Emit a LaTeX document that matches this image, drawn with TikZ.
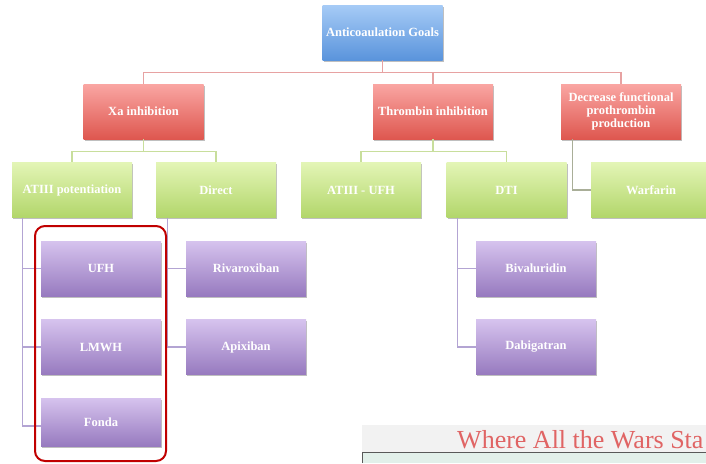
\documentclass[tikz,border=0pt]{standalone}
\usepackage{fontspec}
\setmainfont{Liberation Serif}
\usetikzlibrary{shadows}
\definecolor{bluetop}{HTML}{A6CBF6}
\definecolor{bluebot}{HTML}{5A94DC}
\definecolor{redtop}{HTML}{FAA6A3}
\definecolor{redbot}{HTML}{DE574F}
\definecolor{greentop}{HTML}{E3F5B6}
\definecolor{greenbot}{HTML}{B2D66A}
\definecolor{purptop}{HTML}{D6C3EE}
\definecolor{purpbot}{HTML}{977ABF}
\definecolor{redln}{HTML}{E7A2A2}
\definecolor{greenln}{HTML}{C8DE9C}
\definecolor{purpln}{HTML}{B3A4D3}
\definecolor{grayln}{HTML}{A9AE98}
\definecolor{frame}{HTML}{C00000}
\definecolor{titlered}{HTML}{E06464}
\definecolor{band}{HTML}{F2F2F2}
\definecolor{paleg}{HTML}{E2F0EA}
\tikzset{
  box/.style={minimum width=120pt, minimum height=55pt, inner sep=2pt, text=white, align=center,
    font=\bfseries\fontsize{12.5}{13}\selectfont,
    drop shadow={shadow xshift=1pt, shadow yshift=-1.5pt, fill=black, opacity=0.25}},
  bluebox/.style={box, top color=bluetop, bottom color=bluebot},
  redbox/.style={box, top color=redtop, bottom color=redbot},
  greenbox/.style={box, top color=greentop, bottom color=greenbot},
  purpbox/.style={box, top color=purptop, bottom color=purpbot},
  redline/.style={draw=redln, line width=1.1pt},
  greenline/.style={draw=greenln, line width=1.1pt},
  purpline/.style={draw=purpln, line width=1.1pt},
  grayline/.style={draw=grayln, line width=1.1pt},
}
\begin{document}
\begin{tikzpicture}[x=1pt, y=-1pt]
\useasboundingbox (0,0) rectangle (706,463);
% nodes
\node[bluebox] (goal) at (382.5,32.5) {Anticoaulation Goals};
\node[redbox] (xa) at (143.5,111.5) {Xa inhibition};
\node[redbox] (thr) at (433,111.5) {Thrombin inhibition};
\node[redbox] (dec) at (621,111.5) {Decrease functional\\prothrombin\\production};
\node[greenbox] (at3) at (72,190) {ATIII potentiation};
\node[greenbox] (dir) at (216,190) {Direct};
\node[greenbox] (atu) at (361,190) {ATIII - UFH};
\node[greenbox] (dti) at (506.5,190) {DTI};
\node[greenbox] (war) at (651,190) {Warfarin};
\node[purpbox] (ufh) at (101,268.5) {UFH};
\node[purpbox] (lmwh) at (101,347) {LMWH};
\node[purpbox, minimum height=48pt] (fonda) at (101,422) {\raisebox{-4pt}{Fonda}};
\node[purpbox] (riv) at (246,268.5) {Rivaroxiban};
\node[purpbox] (apx) at (246,347) {Apixiban};
\node[purpbox] (biv) at (536,268.5) {Bivaluridin};
\node[purpbox] (dab) at (536,347) {Dabigatran};
% connectors
\draw[redline] (goal.south) -- ++(0,12) -| (xa.north);
\draw[redline] (goal.south) -- ++(0,12) -| (thr.north);
\draw[redline] (goal.south) -- ++(0,12) -| (dec.north);
\draw[greenline] (xa.south) -- ++(0,12) -| (at3.north);
\draw[greenline] (xa.south) -- ++(0,12) -| (dir.north);
\draw[greenline] (thr.south) -- ++(0,12) -| (atu.north);
\draw[greenline] (thr.south) -- ++(0,12) -| (dti.north);
\draw[grayline] ([xshift=12pt]dec.south west) |- (war.west);
\draw[purpline] ([xshift=11pt]at3.south west) |- (ufh.west);
\draw[purpline] ([xshift=11pt]at3.south west) |- (lmwh.west);
\draw[purpline] ([xshift=11pt]at3.south west) |- ([yshift=-4pt]fonda.west);
\draw[purpline] ([xshift=12pt]dir.south west) |- (riv.west);
\draw[purpline] ([xshift=12pt]dir.south west) |- (apx.west);
\draw[purpline] ([xshift=11pt]dti.south west) |- (biv.west);
\draw[purpline] ([xshift=11pt]dti.south west) |- (dab.west);
% highlight frame
\draw[frame, line width=2pt, rounded corners=10pt] (35,226) rectangle (166,461);
% bottom-right slide fragment
\fill[band] (362,425) rectangle (706,452);
\fill[paleg] (362,452) rectangle (706,463);
\draw[black!65, line width=0.8pt] (362,463) -- (362,452) -- (706,452);
\node[anchor=base west, inner sep=0pt, text=titlered, font=\fontsize{26}{30}\selectfont] (title) at (457,448) {Where All the Wars Sta};
\end{tikzpicture}
\end{document}
